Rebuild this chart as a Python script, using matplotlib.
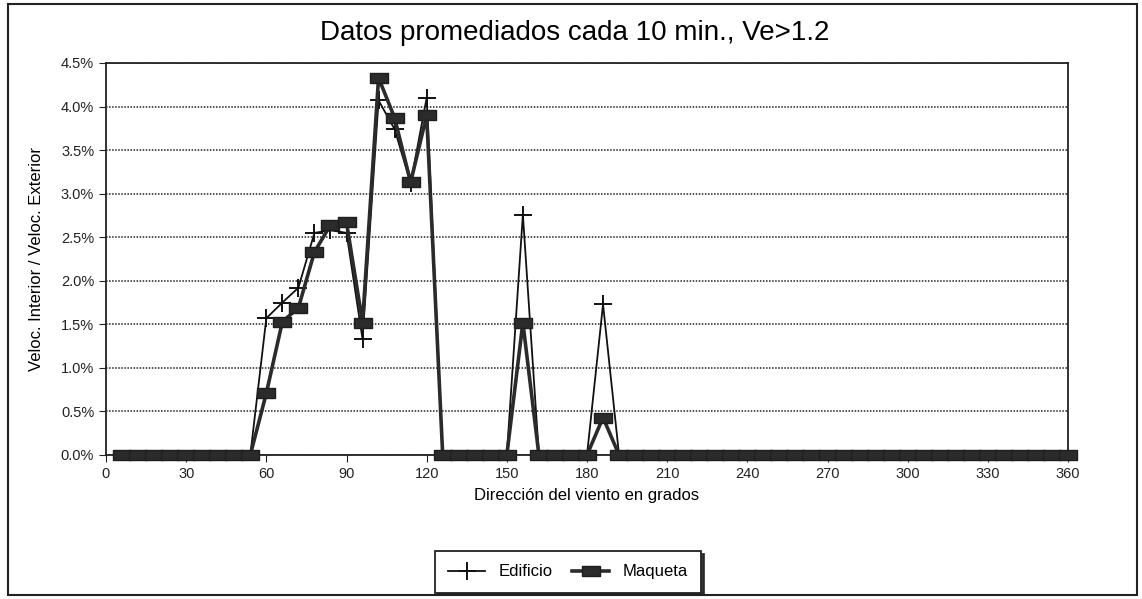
import matplotlib
matplotlib.use("Agg")
import matplotlib.pyplot as plt
from matplotlib.patches import Rectangle
from matplotlib.ticker import PercentFormatter, MultipleLocator

plt.rcParams["font.family"] = ["Liberation Sans", "DejaVu Sans"]

# wind direction bins (degrees)
direccion = [6, 12, 18, 24, 30, 36, 42, 48, 54,
             60, 66, 72, 78, 84, 90, 96, 102, 108, 114, 120,
             126, 132, 138, 144, 150,
             156,
             162, 168, 174, 180,
             186,
             192, 198, 204, 210, 216, 222, 228, 234, 240, 246,
             252, 258, 264, 270, 276, 282, 288, 294, 300, 306,
             312, 318, 324, 330, 336, 342, 348, 354, 360]

# ratio interior / exterior speed, in percent
edificio = [0, 0, 0, 0, 0, 0, 0, 0, 0,
            1.57, 1.75, 1.92, 2.55, 2.58, 2.55, 1.33, 4.07, 3.74, 3.12, 4.10,
            0, 0, 0, 0, 0,
            2.76,
            0, 0, 0, 0,
            1.73,
            0, 0, 0, 0, 0, 0, 0, 0, 0, 0,
            0, 0, 0, 0, 0, 0, 0, 0, 0, 0,
            0, 0, 0, 0, 0, 0, 0, 0, 0]

maqueta = [0, 0, 0, 0, 0, 0, 0, 0, 0,
           0.71, 1.53, 1.69, 2.33, 2.64, 2.67, 1.52, 4.33, 3.87, 3.13, 3.90,
           0, 0, 0, 0, 0,
           1.52,
           0, 0, 0, 0,
           0.43,
           0, 0, 0, 0, 0, 0, 0, 0, 0, 0,
           0, 0, 0, 0, 0, 0, 0, 0, 0, 0,
           0, 0, 0, 0, 0, 0, 0, 0, 0]

fig = plt.figure(figsize=(11.42, 5.99), dpi=100)
ax = fig.add_axes([106 / 1142, 1 - 455 / 599, (1068 - 106) / 1142, (455 - 63) / 599])

# outer frame of the figure
fig.patches.append(Rectangle((8 / 1142, 4 / 599), 1129 / 1142, 591 / 599,
                             transform=fig.transFigure, fill=False,
                             edgecolor="#222222", linewidth=1.5))

# crosses sitting on the zero bar are hidden under the squares in the original
visibles = [i for i, v in enumerate(edificio) if v > 0]

rect = [(-1.9, -1), (1.9, -1), (1.9, 1), (-1.9, 1), (-1.9, -1)]
ax.plot(direccion, edificio, color="#111111", linewidth=1.3, marker="+",
        markersize=13, markeredgewidth=1.4, markevery=visibles,
        label="Edificio", zorder=3, clip_on=False)
ax.plot(direccion, maqueta, color="#2b2b2b", linewidth=2.6, marker=rect,
        markersize=12.5, markerfacecolor="#2b2b2b", markeredgecolor="#1e1e1e",
        label="Maqueta", zorder=4, clip_on=False)

ax.set_xlim(0, 360)
ax.set_ylim(0, 4.5)
ax.xaxis.set_major_locator(MultipleLocator(30))
ax.yaxis.set_major_locator(MultipleLocator(0.5))
ax.yaxis.set_major_formatter(PercentFormatter(xmax=100, decimals=1))
ax.grid(axis="y", color="#222222", linestyle=(0, (1, 1)), linewidth=1.1)
ax.tick_params(direction="out", length=5, labelsize=10.5, colors="#222222")
for s in ax.spines.values():
    s.set_linewidth(1.3)
    s.set_color("#222222")

ax.set_xlabel("Dirección del viento en grados", fontsize=12, labelpad=5)
ax.set_ylabel("Veloc. Interior / Veloc. Exterior", fontsize=12, labelpad=12)
fig.text(0.503, 1 - 33 / 599, "Datos promediados cada 10 min., Ve>1.2",
         ha="center", va="center", fontsize=20)

handles, labels = ax.get_legend_handles_labels()
leg = fig.legend(handles, labels, loc="upper center",
                 bbox_to_anchor=(568 / 1142, 1 - 551 / 599), ncol=2,
                 fontsize=12, frameon=True, fancybox=False,
                 shadow={"color": "#222222", "alpha": 0.9},
                 handlelength=2.2, columnspacing=1.2, borderpad=0.8,
                 borderaxespad=0)
leg.get_frame().set_edgecolor("#222222")
leg.get_frame().set_linewidth(1.3)

fig.savefig("out.png", dpi=100)
plt.close(fig)
